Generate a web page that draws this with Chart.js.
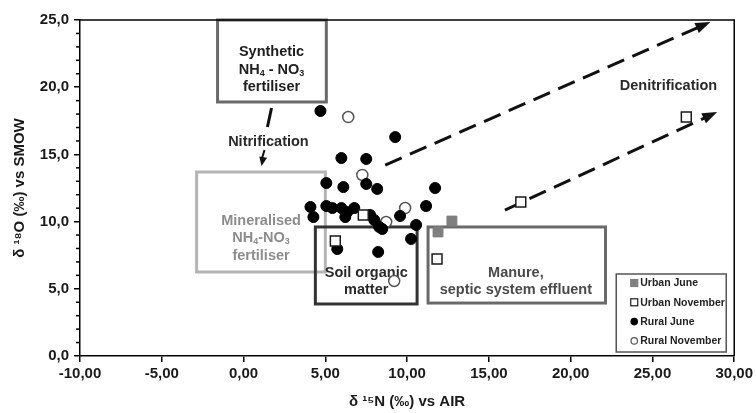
<!DOCTYPE html>
<html>
<head>
<meta charset="utf-8">
<script src="https://cdn.jsdelivr.net/npm/chart.js@4.4.1/dist/chart.umd.min.js"></script>
<style>
  html, body { margin: 0; padding: 0; background: #fff; }
  #wrap { width: 756px; height: 413px; }
</style>
</head>
<body>
<div id="wrap"><canvas id="isotopeChart"></canvas></div>
<script>
// series names (legend order)
const seriesNames = ['Urban June', 'Urban November', 'Rural June', 'Rural November'];

// delta 15N (x) and delta 18O (y)
const urbanJuneN = [12.74, 11.89];
const urbanJuneO = [10.04, 9.23];

const urbanNovN = [7.32, 5.61, 11.83, 16.95, 27.07];
const urbanNovO = [10.49, 8.56, 7.22, 11.46, 17.78];

const ruralJuneN = [4.70, 9.27, 5.98, 7.50, 5.06, 6.10, 7.50, 8.17, 11.71, 4.09, 4.27, 5.06, 5.43, 5.98,
                    6.34, 6.77, 6.22, 7.74, 7.99, 8.29, 8.48, 9.57, 11.16, 10.55, 10.24, 5.73, 8.23];
const ruralJuneO = [18.23, 16.29, 14.73, 14.66, 12.87, 12.57, 12.80, 12.43, 12.50, 11.09, 10.34, 11.16, 11.01, 11.01,
                    10.71, 11.01, 10.34, 10.49, 10.12, 9.60, 9.45, 10.42, 11.16, 9.75, 8.71, 7.96, 7.74];

const ruralNovN = [6.40, 7.26, 9.88, 8.72, 9.21];
const ruralNovO = [17.78, 13.47, 11.01, 9.97, 5.58];

// axis tick labels
const xTickLabels = ['-10,00', '-5,00', '0,00', '5,00', '10,00', '15,00', '20,00', '25,00', '30,00'];
const yTickLabels = ['0,0', '5,0', '10,0', '15,0', '20,0', '25,0'];

const zip = (xs, ys) => xs.map((x, i) => ({ x: x, y: ys[i] }));

// source boxes (data units)
const sourceBoxes = [
    { x0: -1.59, x1: 5.06, y0: 25.0, y1: 18.9, color: '#6a6a6a' },
    { x0: -2.87, x1: 5.0, y0: 13.69, y1: 6.25, color: '#b4b4b4' },
    { x0: 4.39, x1: 10.61, y0: 9.6, y1: 3.87, color: '#333333' },
    { x0: 11.28, x1: 22.13, y0: 9.6, y1: 3.94, color: '#6a6a6a' }
];

// text labels: parts are [text, 'sub' | '']
const noteLabels = [
    { x: 1.71, y: 22.62, color: '#1e1e1e', parts: [['Synthetic', '']] },
    { x: 1.71, y: 21.28, color: '#1e1e1e', parts: [['NH', ''], ['4', 'sub'], [' - NO', ''], ['3', 'sub']] },
    { x: 1.71, y: 20.01, color: '#1e1e1e', parts: [['fertiliser', '']] },
    { x: 1.52, y: 15.92, color: '#2a2a2a', parts: [['Nitrification', '']] },
    { x: 1.07, y: 10.04, color: '#8c8c8c', parts: [['Mineralised', '']] },
    { x: 1.07, y: 8.78, color: '#8c8c8c', parts: [['NH', ''], ['4', 'sub'], ['-NO', ''], ['3', 'sub']] },
    { x: 1.07, y: 7.44, color: '#8c8c8c', parts: [['fertiliser', '']] },
    { x: 7.50, y: 6.18, color: '#2a2a2a', parts: [['Soil organic', '']] },
    { x: 7.50, y: 4.91, color: '#2a2a2a', parts: [['matter', '']] },
    { x: 16.65, y: 6.18, color: '#4a4a4a', parts: [['Manure,', '']] },
    { x: 16.65, y: 4.91, color: '#4a4a4a', parts: [['septic system effluent', '']] },
    { x: 25.98, y: 20.09, color: '#2a2a2a', parts: [['Denitrification', '']] }
];

// arrows: dashed denitrification trends and the short nitrification arrow
const arrows = [
    { from: [8.66, 14.21], to: [28.54, 24.85], dash: [18, 9] },
    { from: [15.98, 10.86], to: [28.96, 18.15], dash: [18, 9] }
];
const nitrifLine = { from: [1.71, 18.45], to: [1.46, 17.04] };
const nitrifHead = { from: [1.28, 15.33], to: [1.10, 14.14] };

const NOTE_FONT = 'bold 14.5px "Liberation Sans", Arial, sans-serif';

function drawParts(ctx, parts, cx, cy, size) {
    const subSize = Math.round(size * 0.62);
    const fonts = parts.map(p => p[1] === 'sub'
        ? 'bold ' + subSize + 'px "Liberation Sans", Arial, sans-serif'
        : 'bold ' + size + 'px "Liberation Sans", Arial, sans-serif');
    let total = 0;
    const widths = parts.map((p, i) => {
        ctx.font = fonts[i];
        const w = ctx.measureText(p[0]).width;
        total += w;
        return w;
    });
    let x = cx - total / 2;
    ctx.textAlign = 'left';
    ctx.textBaseline = 'middle';
    parts.forEach((p, i) => {
        ctx.font = fonts[i];
        ctx.fillText(p[0], x, p[1] === 'sub' ? cy + 4 : cy);
        x += widths[i];
    });
}

function arrowHead(ctx, x0, y0, x1, y1, len, half) {
    const a = Math.atan2(y1 - y0, x1 - x0);
    ctx.beginPath();
    ctx.moveTo(x1, y1);
    ctx.lineTo(x1 - len * Math.cos(a) + half * Math.sin(a), y1 - len * Math.sin(a) - half * Math.cos(a));
    ctx.lineTo(x1 - len * Math.cos(a) - half * Math.sin(a), y1 - len * Math.sin(a) + half * Math.cos(a));
    ctx.closePath();
    ctx.fill();
}

const notesPlugin = {
    id: 'notes',
    beforeDatasetsDraw(chart) {
        const ctx = chart.ctx;
        const xs = chart.scales.x, ys = chart.scales.y;
        const px = v => xs.getPixelForValue(v);
        const py = v => ys.getPixelForValue(v);
        ctx.save();

        // boxes
        sourceBoxes.forEach(b => {
            ctx.strokeStyle = b.color;
            ctx.lineWidth = 3;
            ctx.strokeRect(px(b.x0), py(b.y0), px(b.x1) - px(b.x0), py(b.y1) - py(b.y0));
        });

        // labels
        noteLabels.forEach(l => {
            ctx.fillStyle = l.color;
            drawParts(ctx, l.parts, px(l.x), py(l.y), 14.5);
        });

        // dashed arrows
        ctx.strokeStyle = '#111';
        ctx.fillStyle = '#111';
        ctx.lineWidth = 3;
        arrows.forEach(a => {
            const x0 = px(a.from[0]), y0 = py(a.from[1]);
            const x1 = px(a.to[0]), y1 = py(a.to[1]);
            const ang = Math.atan2(y1 - y0, x1 - x0);
            ctx.setLineDash(a.dash);
            ctx.beginPath();
            ctx.moveTo(x0, y0);
            ctx.lineTo(x1 - 10 * Math.cos(ang), y1 - 10 * Math.sin(ang));
            ctx.stroke();
            ctx.setLineDash([]);
            arrowHead(ctx, x0, y0, x1, y1, 15, 5.5);
        });

        // nitrification arrow
        ctx.lineWidth = 3;
        ctx.beginPath();
        ctx.moveTo(px(nitrifLine.from[0]), py(nitrifLine.from[1]));
        ctx.lineTo(px(nitrifLine.to[0]), py(nitrifLine.to[1]));
        ctx.stroke();
        ctx.lineWidth = 2;
        const hx0 = px(nitrifHead.from[0]), hy0 = py(nitrifHead.from[1]);
        const hx1 = px(nitrifHead.to[0]), hy1 = py(nitrifHead.to[1]);
        ctx.beginPath();
        ctx.moveTo(hx0, hy0);
        ctx.lineTo(hx1, hy1 - 6);
        ctx.stroke();
        arrowHead(ctx, hx0, hy0, hx1, hy1, 9, 4);
        ctx.restore();
    },
    afterDraw(chart) {
        const ctx = chart.ctx;
        const area = chart.chartArea;
        const ys = chart.scales.y;
        ctx.save();

        // top and right frame
        ctx.strokeStyle = '#000';
        ctx.lineWidth = 1.5;
        ctx.beginPath();
        ctx.moveTo(area.left, area.top);
        ctx.lineTo(area.right, area.top);
        ctx.lineTo(area.right, area.bottom);
        ctx.stroke();

        // minor ticks on the y axis
        ctx.lineWidth = 1.5;
        for (let v = 1; v < 25; v++) {
            if (v % 5 === 0) continue;
            const y = ys.getPixelForValue(v);
            ctx.beginPath();
            ctx.moveTo(area.left - 4, y);
            ctx.lineTo(area.left, y);
            ctx.stroke();
        }

        // legend box
        const lx = area.right - 118, ly = area.bottom - 82, lw = 110, lh = 78;
        ctx.fillStyle = '#fff';
        ctx.fillRect(lx, ly, lw, lh);
        ctx.strokeStyle = '#555';
        ctx.lineWidth = 1.5;
        ctx.strokeRect(lx, ly, lw, lh);
        ctx.font = 'bold 10.5px "Liberation Sans", Arial, sans-serif';
        ctx.textAlign = 'left';
        ctx.textBaseline = 'middle';
        chart.data.datasets.forEach((ds, i) => {
            const cy = ly + 9 + i * 19.3;
            const cx = lx + 18;
            ctx.lineWidth = 1.2;
            ctx.fillStyle = ds.backgroundColor;
            ctx.strokeStyle = ds.borderColor;
            if (ds.pointStyle === 'rect') {
                ctx.fillRect(cx - 3.5, cy - 3.5, 7, 7);
                ctx.strokeRect(cx - 3.5, cy - 3.5, 7, 7);
            } else {
                ctx.beginPath();
                ctx.arc(cx, cy, 3.2, 0, Math.PI * 2);
                ctx.fill();
                ctx.stroke();
            }
            ctx.fillStyle = '#222';
            ctx.fillText(ds.label, cx + 6, cy + 0.5);
        });
        ctx.restore();
    }
};

const tickFont = { family: '"Liberation Sans", Arial, sans-serif', size: 15, weight: 'bold' };
const titleFont = { family: '"Liberation Sans", Arial, sans-serif', size: 15, weight: 'bold' };

new Chart(document.getElementById('isotopeChart'), {
    type: 'scatter',
    data: {
        datasets: [
            {
                label: seriesNames[0],
                data: zip(urbanJuneN, urbanJuneO),
                pointStyle: 'rect',
                pointRadius: 7,
                backgroundColor: '#7f7f7f',
                borderColor: '#7f7f7f',
                borderWidth: 1
            },
            {
                label: seriesNames[1],
                data: zip(urbanNovN, urbanNovO),
                pointStyle: 'rect',
                pointRadius: 7,
                backgroundColor: '#ffffff',
                borderColor: '#1a1a1a',
                borderWidth: 1.5
            },
            {
                label: seriesNames[2],
                data: zip(ruralJuneN, ruralJuneO),
                pointStyle: 'circle',
                pointRadius: 5.5,
                backgroundColor: '#000000',
                borderColor: '#000000',
                borderWidth: 1
            },
            {
                label: seriesNames[3],
                data: zip(ruralNovN, ruralNovO),
                pointStyle: 'circle',
                pointRadius: 5.5,
                backgroundColor: '#ffffff',
                borderColor: '#555555',
                borderWidth: 1.5
            }
        ]
    },
    options: {
        responsive: true,
        maintainAspectRatio: false,
        animation: false,
        layout: { padding: { top: 20, right: 20, left: 0, bottom: 0 } },
        scales: {
            x: {
                type: 'linear',
                min: -10,
                max: 30,
                ticks: {
                    stepSize: 5,
                    color: '#1a1a1a',
                    font: tickFont,
                    padding: 3,
                    maxRotation: 0,
                    callback: (v, i) => xTickLabels[i]
                },
                grid: { drawOnChartArea: false, drawTicks: true, tickLength: 6, color: '#000', lineWidth: 1.5 },
                border: { display: true, color: '#000', width: 1.5 },
                title: {
                    display: true,
                    text: 'δ \u00B9\u2075N (‰) vs AIR',
                    color: '#1a1a1a',
                    font: titleFont,
                    padding: { top: 0, bottom: 2 }
                },
                afterFit: s => { s.height = 57; }
            },
            y: {
                type: 'linear',
                min: 0,
                max: 25,
                ticks: {
                    stepSize: 5,
                    color: '#1a1a1a',
                    font: tickFont,
                    padding: 5,
                    callback: (v, i) => yTickLabels[i]
                },
                grid: { drawOnChartArea: false, drawTicks: true, tickLength: 6, color: '#000', lineWidth: 1.5 },
                border: { display: true, color: '#000', width: 1.5 },
                title: {
                    display: true,
                    text: 'δ \u00B9\u2078O (‰) vs SMOW',
                    color: '#1a1a1a',
                    font: titleFont,
                    padding: { top: 11, bottom: 0 }
                },
                afterFit: s => { s.width = 80; }
            }
        },
        plugins: {
            legend: { display: false },
            tooltip: { enabled: false }
        }
    },
    plugins: [notesPlugin]
});
</script>
</body>
</html>
